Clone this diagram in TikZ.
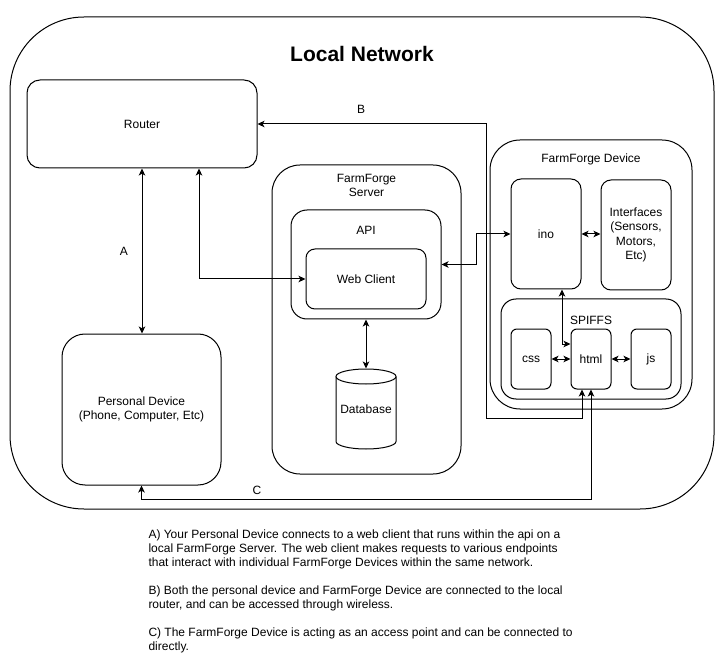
\documentclass[tikz,border=0pt]{standalone}
\usepackage{fontspec}
\setmainfont{Liberation Sans}
\usetikzlibrary{arrows.meta}
\begin{document}
\begin{tikzpicture}[x=1pt,y=-1pt,line width=1pt,
  every node/.style={font=\fontsize{12}{14}\selectfont, inner sep=0pt},
  box/.style={draw, rounded corners=#1, align=center},
  link/.style={{Stealth[length=7pt,width=6.5pt,inset=1.8pt]}-{Stealth[length=7pt,width=6.5pt,inset=1.8pt]}},
  lbl/.style={align=center}]
\useasboundingbox (0,0) rectangle (724,666);

% outer network
\node[box=74pt, minimum width=704pt, minimum height=492pt] (net) at (362,263) {};
\node[font=\fontsize{21}{24}\selectfont\bfseries] (title) at (362,54) {Local Network};

% router and personal device
\node[box=13pt, minimum width=230pt, minimum height=88pt] (router) at (142,124) {Router};
\node[box=23pt, minimum width=159pt, minimum height=151pt] (personal) at (141.5,409.5) {Personal Device\\(Phone, Computer, Etc)};

% server
\node[box=28pt, minimum width=189pt, minimum height=309pt] (server) at (366.5,319.5) {};
\node[lbl] (serverlbl) at (366.5,185) {FarmForge\\Server};
\node[box=16pt, minimum width=150pt, minimum height=109pt] (api) at (366,264.5) {};
\node (apilbl) at (366,230) {API};
\node[box=9pt, minimum width=120pt, minimum height=60pt] (web) at (366,279) {Web Client};

% database
\draw (366,376.5) ellipse[x radius=30, y radius=7.5];
\draw (336,376.5) -- (336,441.5) arc[start angle=180, end angle=0, x radius=30, y radius=7.5] -- (396,376.5);
\node[minimum width=60pt, minimum height=80pt] (db) at (366,409) {Database};

% device
\node[box=30pt, minimum width=202pt, minimum height=269pt] (device) at (591,274.5) {};
\node (devicelbl) at (591,159) {FarmForge Device};
\node[box=10pt, minimum width=70pt, minimum height=110pt] (ino) at (546,234) {ino};
\node[box=10pt, minimum width=70pt, minimum height=110pt, font=\fontsize{12}{14.5}\selectfont] (intf) at (636,235) {Interfaces\\(Sensors,\\Motors,\\Etc)};
\node[box=15pt, minimum width=180pt, minimum height=100pt] (spiffs) at (591,349) {};
\node (spiffslbl) at (591,320) {SPIFFS};
\node[box=6pt, minimum width=40pt, minimum height=60pt] (css) at (531,359) {css};
\node[box=6pt, minimum width=40pt, minimum height=60pt] (html) at (591,359) {html};
\node[box=6pt, minimum width=40pt, minimum height=60pt] (js) at (651,359) {js};

% connectors
\draw[link] (router.south) -- (router.south |- personal.north);
\node (A) at (124,251) {A};
\draw[link] ([xshift=57pt]router.south) |- (web.west);
\draw[link] (api.south) -- (db.north);
\draw[link] (api.east) -- ++(35,0) |- (ino.west);
\draw[link] (ino.east) -- (ino.east -| intf.west);
\draw[link] ([xshift=16pt]ino.south) |- ([yshift=15pt]html.west);
\draw[link] (css.east) -- (html.west);
\draw[link] (html.east) -- (js.west);
\draw[link] (router.east) -| (486,418) -| ([xshift=-9pt]html.south);
\node (B) at (361,109) {B};
\draw[link] (personal.south) -- ++(0,14) -| (html.south);
\node (C) at (257,490) {C};

% notes
\node[anchor=base west, align=left] (notes) at (148,650) {A) Your Personal Device connects to a web client that runs within the api on a\\
local FarmForge Server. The web client makes requests to various endpoints\\
that interact with individual FarmForge Devices within the same network.\\[14pt]
B) Both the personal device and FarmForge Device are connected to the local\\
router, and can be accessed through wireless.\\[14pt]
C) The FarmForge Device is acting as an access point and can be connected to\\
directly.};
\end{tikzpicture}
\end{document}
